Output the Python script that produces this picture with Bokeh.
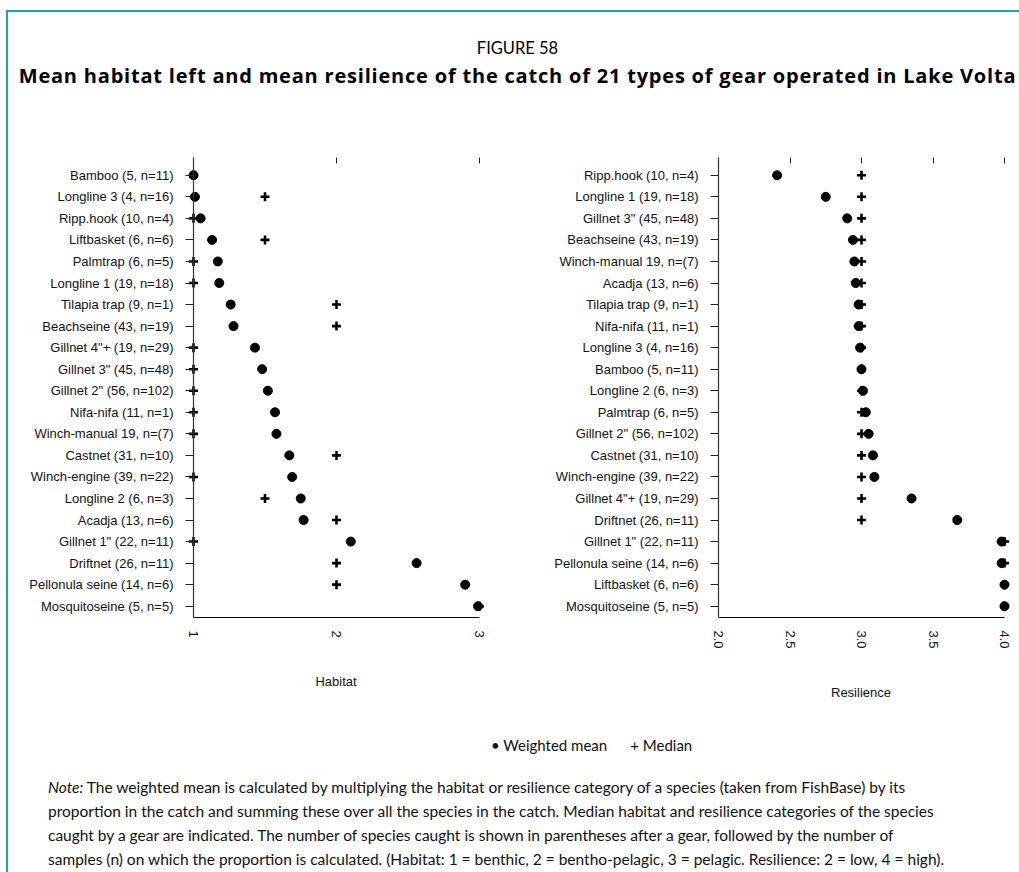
import math
from bokeh.plotting import figure
from bokeh.models import (Range1d, FixedTicker, LinearAxis, Span, Div,
                          CustomJSTickFormatter, NumeralTickFormatter)
from bokeh.layouts import column, row
from bokeh.embed import file_html
from bokeh.resources import INLINE

# ---------------- data ----------------
# Habitat panel, rows listed top to bottom
hab_gears = ["Bamboo (5, n=11)", "Longline 3 (4, n=16)", "Ripp.hook (10, n=4)",
             "Liftbasket (6, n=6)", "Palmtrap (6, n=5)", "Longline 1 (19, n=18)",
             "Tilapia trap (9, n=1)", "Beachseine (43, n=19)", 'Gillnet 4"+ (19, n=29)',
             'Gillnet 3" (45, n=48)', 'Gillnet 2" (56, n=102)', "Nifa-nifa (11, n=1)",
             "Winch-manual 19, n=(7)", "Castnet (31, n=10)", "Winch-engine (39, n=22)",
             "Longline 2 (6, n=3)", "Acadja (13, n=6)", 'Gillnet 1" (22, n=11)',
             "Driftnet (26, n=11)", "Pellonula seine (14, n=6)", "Mosquitoseine (5, n=5)"]
hab_mean = [1.00, 1.01, 1.05, 1.13, 1.17, 1.18, 1.26, 1.28, 1.43, 1.48, 1.52,
            1.57, 1.58, 1.67, 1.69, 1.75, 1.77, 2.10, 2.56, 2.90, 2.99]
hab_median = [1, 1.5, 1, 1.5, 1, 1, 2, 2, 1, 1, 1,
              1, 1, 2, 1, 1.5, 2, 1, 2, 2, 3]

# Resilience panel, rows listed top to bottom
res_gears = ["Ripp.hook (10, n=4)", "Longline 1 (19, n=18)", 'Gillnet 3" (45, n=48)',
             "Beachseine (43, n=19)", "Winch-manual 19, n=(7)", "Acadja (13, n=6)",
             "Tilapia trap (9, n=1)", "Nifa-nifa (11, n=1)", "Longline 3 (4, n=16)",
             "Bamboo (5, n=11)", "Longline 2 (6, n=3)", "Palmtrap (6, n=5)",
             'Gillnet 2" (56, n=102)', "Castnet (31, n=10)", "Winch-engine (39, n=22)",
             'Gillnet 4"+ (19, n=29)', "Driftnet (26, n=11)", 'Gillnet 1" (22, n=11)',
             "Pellonula seine (14, n=6)", "Liftbasket (6, n=6)", "Mosquitoseine (5, n=5)"]
res_mean = [2.41, 2.75, 2.90, 2.94, 2.95, 2.96, 2.98, 2.98, 2.99, 3.00, 3.01,
            3.03, 3.05, 3.08, 3.09, 3.35, 3.67, 3.98, 3.98, 4.00, 4.00]
res_median = [3, 3, 3, 3, 3, 3, 3, 3, 3, 3, 3,
              3, 3, 3, 3, 3, 3, 4, 4, 4, 4]

hab_ticks = [1, 2, 3]
res_ticks = [2.0, 2.5, 3.0, 3.5, 4.0]

TEAL = "#1fa89e"
AXFONT = "Liberation Sans"


def panel(names, mean, median, ticks, xlabel, fmt, mbl, mbr):
    n = len(names)
    ys = list(range(n, 0, -1))
    x0, x1 = ticks[0], ticks[-1]
    p = figure(output_backend="svg", toolbar_location=None,
               frame_width=301, frame_height=460,
               min_border_left=mbl, min_border_right=mbr,
               min_border_top=10, min_border_bottom=90,
               x_range=Range1d(x0 - 8 / 143, x1 + 7 / 143),
               y_range=Range1d(0.476, n + 0.825),
               x_axis_location=None, y_axis_location=None,
               outline_line_color=None, background_fill_color="white")
    p.xgrid.visible = False
    p.ygrid.visible = False

    yax = LinearAxis(ticker=FixedTicker(ticks=ys),
                     formatter=CustomJSTickFormatter(args=dict(labels=names), code="""
                        const i = Math.round(tick);
                        const s = labels[labels.length - i];
                        return s === undefined ? '' : s;"""),
                     axis_line_color=None, major_tick_in=8, major_tick_out=0,
                     major_tick_line_color="#222", minor_tick_line_color=None,
                     major_label_standoff=12, major_label_text_font_size="13px",
                     major_label_text_font=AXFONT, major_label_text_color="#111")
    p.add_layout(yax, "left")

    xax = LinearAxis(ticker=FixedTicker(ticks=ticks), formatter=fmt,
                     bounds=(x0, x1), axis_line_color="black", axis_line_width=1.2,
                     major_tick_in=0, major_tick_out=0, minor_tick_line_color=None,
                     major_label_orientation=-math.pi / 2, major_label_standoff=13,
                     major_label_text_font_size="13px", major_label_text_font=AXFONT,
                     major_label_text_color="#111",
                     axis_label=xlabel, axis_label_standoff=33,
                     axis_label_text_font=AXFONT, axis_label_text_font_size="13px",
                     axis_label_text_font_style="normal", axis_label_text_color="#111")
    p.add_layout(xax, "below")

    tax = LinearAxis(ticker=FixedTicker(ticks=ticks),
                     formatter=CustomJSTickFormatter(code="return '';"),
                     axis_line_color=None, major_tick_in=6, major_tick_out=0,
                     major_tick_line_color="#222", minor_tick_line_color=None,
                     major_label_standoff=0)
    p.add_layout(tax, "above")

    p.add_layout(Span(location=x0, dimension="height", line_color="#333", line_width=1.2))

    p.scatter(x=median, y=ys, marker="cross", size=9, line_width=2.6,
              line_color="black")
    p.scatter(x=mean, y=ys, marker="circle", size=9, fill_color="black",
              line_color="black")
    return p


p1 = panel(hab_gears, hab_mean, hab_median, hab_ticks, "Habitat",
           NumeralTickFormatter(format="0"), 177, 24)
p2 = panel(res_gears, res_mean, res_median, res_ticks, "Resilience",
           NumeralTickFormatter(format="0.0"), 200, 6)

title_html = (
    '<div style="width:1009px;text-align:center;color:#000;">'
    '<div style="font-family:Lato,sans-serif;font-size:16.5px;line-height:22px;'
    'padding-top:20px;">FIGURE 58</div>'
    '<div style="font-family:\'Open Sans\',sans-serif;font-size:20px;font-weight:bold;'
    'letter-spacing:0.8px;line-height:24px;margin-top:5px;white-space:nowrap;">'
    'Mean habitat left and mean resilience of the catch of 21 types of gear operated '
    'in Lake Volta</div></div>')
title = Div(text=title_html, width=1009, height=125)

note_html = (
    '<div style="width:1009px;font-family:Lato,sans-serif;color:#111;">'
    '<div style="font-size:15px;line-height:20px;padding-top:23px;padding-left:478px;'
    'white-space:nowrap;">&#8226; Weighted mean&nbsp;&nbsp;&nbsp;&nbsp;&nbsp; + Median</div>'
    '<div style="font-size:15.5px;line-height:24px;padding-top:20px;padding-left:35px;'
    'white-space:nowrap;">'
    '<i>Note:</i> The weighted mean is calculated by multiplying the habitat or resilience '
    'category of a species (taken from FishBase) by its<br>'
    'proportion in the catch and summing these over all the species in the catch. Median '
    'habitat and resilience categories of the species<br>'
    'caught by a gear are indicated. The number of species caught is shown in parentheses '
    'after a gear, followed by the number of<br>'
    'samples (n) on which the proportion is calculated. (Habitat: 1 = benthic, 2 = '
    'bentho-pelagic, 3 = pelagic. Resilience: 2 = low, 4 = high).'
    '</div></div>')
note = Div(text=note_html, width=1009, height=155)

layout = column(title, row(p1, p2), note,
                styles={"border-top": f"2px solid {TEAL}",
                        "border-left": f"2px solid {TEAL}",
                        "margin-left": "6px", "margin-top": "10px"})

with open("out.html", "w") as f:
    f.write(file_html(layout, INLINE))
